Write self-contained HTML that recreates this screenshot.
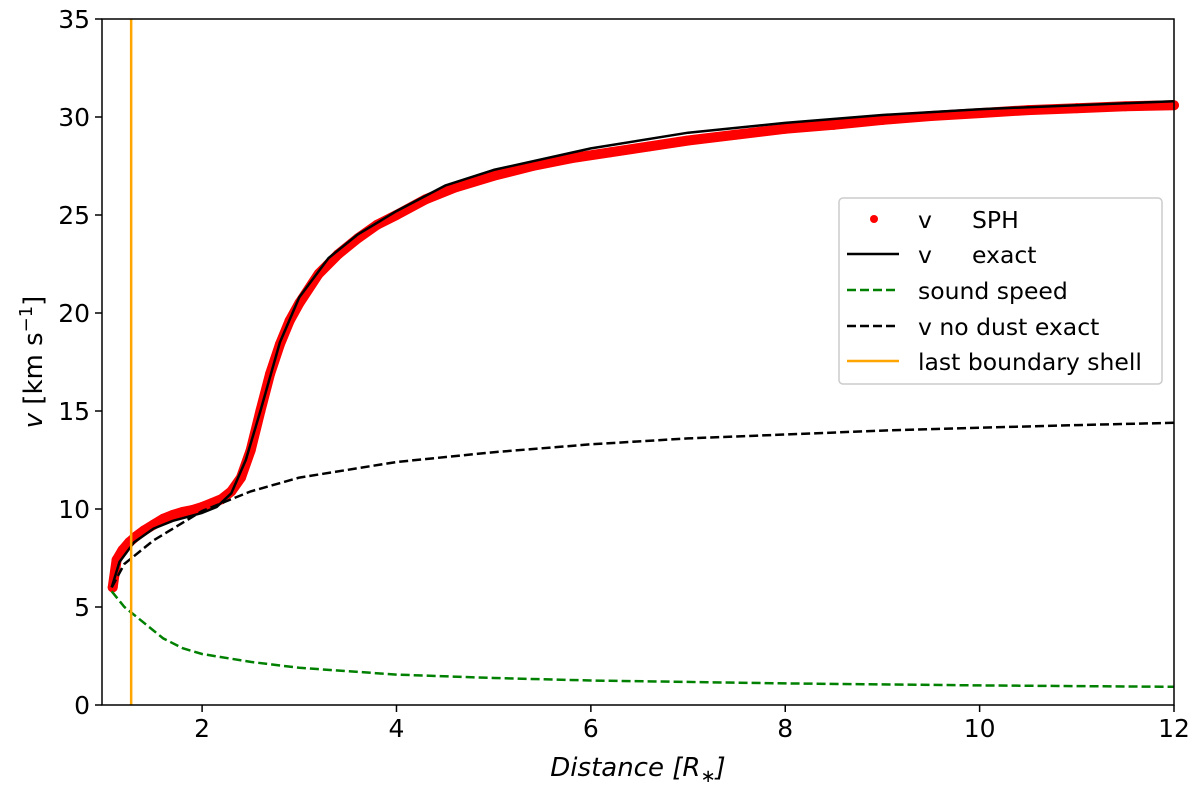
<!DOCTYPE html>
<html><head><meta charset="utf-8"><style>
body{margin:0;background:#fff;}
svg text{font-family:"DejaVu Sans","Liberation Sans",sans-serif;}
</style></head><body>
<svg id="chart" width="1200" height="790" xmlns="http://www.w3.org/2000/svg">
<g id="plot"></g>
<text x="638" y="776" text-anchor="middle" font-size="26" font-style="italic">Distance [R<tspan font-size="18" dy="6">∗</tspan><tspan dy="-6">]</tspan></text>
<text transform="translate(42,362) rotate(-90)" text-anchor="middle" font-size="26"><tspan font-style="italic">v</tspan> [km s<tspan font-size="18" dy="-10">−1</tspan><tspan dy="10">]</tspan></text>
<g>
<rect x="839" y="198" width="323" height="186" rx="4" fill="#fff" stroke="#ccc" stroke-width="1.5"/>
<circle cx="874" cy="219" r="4" fill="#ff0000"/>
<text x="918" y="228" font-size="23.5">v</text><text x="972" y="228" font-size="23.5">SPH</text>
<line x1="847" x2="899" y1="254" y2="254" stroke="#000" stroke-width="2.5"/>
<text x="918" y="263" font-size="23.5">v</text><text x="972" y="263" font-size="23.5">exact</text>
<line x1="847" x2="899" y1="290" y2="290" stroke="#008000" stroke-width="2.5" stroke-dasharray="9,4"/>
<text x="918" y="299" font-size="23.5">sound speed</text>
<line x1="847" x2="899" y1="326" y2="326" stroke="#000" stroke-width="2.5" stroke-dasharray="9,4"/>
<text x="918" y="335" font-size="23.5">v no dust exact</text>
<line x1="847" x2="899" y1="361" y2="361" stroke="#ffa500" stroke-width="2.5"/>
<text x="918" y="370" font-size="23.5">last boundary shell</text>
</g>
</svg>
<script>
const xs_exact=[1.07,1.15,1.3,1.5,1.7,2.0,2.15,2.3,2.45,2.6,2.8,3.0,3.3,3.6,4,4.5,5,6,7,8,9,10,11,12];
const v_exact=[6,7.3,8.3,9.0,9.4,9.8,10.1,10.8,12.5,15,18.5,20.8,22.8,24,25.2,26.5,27.3,28.4,29.2,29.7,30.1,30.4,30.6,30.8];
const xs_sph=[1.08,1.12,1.18,1.25,1.32,1.4,1.5,1.6,1.7,1.8,1.9,2.0,2.1,2.2,2.3,2.4,2.5,2.6,2.7,2.8,2.9,3.0,3.2,3.4,3.6,3.8,4.0,4.3,4.6,5.0,5.4,5.8,6.2,6.6,7.0,7.5,8,8.5,9,9.5,10,10.5,11,11.5,12];
const v_sph=[6,7.4,7.9,8.3,8.6,8.9,9.2,9.5,9.7,9.85,9.95,10.1,10.3,10.5,10.9,11.6,13.0,15.0,16.9,18.4,19.6,20.5,22.0,23.0,23.8,24.5,25.0,25.8,26.4,27.0,27.5,27.9,28.2,28.5,28.8,29.1,29.4,29.6,29.85,30.05,30.2,30.35,30.45,30.55,30.6];
const xs_nodust=[1.07,1.2,1.5,2,2.5,3,4,5,6,7,8,9,10,11,12];
const v_nodust=[6,7.2,8.4,9.9,10.9,11.6,12.4,12.9,13.3,13.6,13.8,14.0,14.15,14.28,14.4];
const xs_cs=[1.07,1.2,1.4,1.6,1.8,2,2.5,3,4,5,6,8,10,12];
const v_cs=[5.8,5.0,4.2,3.4,2.9,2.6,2.2,1.9,1.55,1.38,1.25,1.1,1.0,0.93];
const xTicks=[2,4,6,8,10,12];
const yTicks=[0,5,10,15,20,25,30,35];
const boundaryX=1.27;
const X0=0.97,X1=12,Y0=0,Y1=35,L=102,R=1174,T=19,B=705;
const sx=x=>L+(x-X0)/(X1-X0)*(R-L);
const sy=y=>B-(y-Y0)/(Y1-Y0)*(B-T);
const NS="http://www.w3.org/2000/svg";
const g=document.getElementById('plot');
function mk(tag,attrs,parent){const e=document.createElementNS(NS,tag);for(const k in attrs)e.setAttribute(k,attrs[k]);(parent||g).appendChild(e);return e;}
function pts(xa,ya){return xa.map((x,i)=>sx(x).toFixed(1)+','+sy(ya[i]).toFixed(1)).join(' ');}
let e;
e=mk('polyline',{points:pts(xs_sph,v_sph),fill:'none',stroke:'#ff0000','stroke-width':10,'stroke-linejoin':'round','stroke-linecap':'round'});


xs_sph.forEach((x,i)=>{const c=mk('circle',{cx:sx(x),cy:sy(v_sph[i]),r:5,fill:'#ff0000'});

});
e=mk('polyline',{points:pts(xs_cs,v_cs),fill:'none',stroke:'#008000','stroke-width':2.5,'stroke-dasharray':'9,4'});


e=mk('polyline',{points:pts(xs_nodust,v_nodust),fill:'none',stroke:'#000','stroke-width':2.5,'stroke-dasharray':'9,4'});


e=mk('polyline',{points:pts(xs_exact,v_exact),fill:'none',stroke:'#000','stroke-width':2.5,'stroke-linejoin':'round'});


e=mk('line',{x1:sx(boundaryX),x2:sx(boundaryX),y1:T,y2:B,stroke:'#ffa500','stroke-width':2.5});


e=mk('rect',{x:L,y:T,width:R-L,height:B-T,fill:'none',stroke:'#000','stroke-width':1.5});


xTicks.forEach(t=>{mk('line',{x1:sx(t),x2:sx(t),y1:B,y2:B+7,stroke:'#000','stroke-width':1.5});
const tx=mk('text',{x:sx(t),y:B+32,'text-anchor':'middle','font-size':25});tx.textContent=t;

});
yTicks.forEach(t=>{mk('line',{x1:L-7,x2:L,y1:sy(t),y2:sy(t),stroke:'#000','stroke-width':1.5});
const tx=mk('text',{x:L-12,y:sy(t)+9,'text-anchor':'end','font-size':25});tx.textContent=t;

});
</script>
</body></html>
